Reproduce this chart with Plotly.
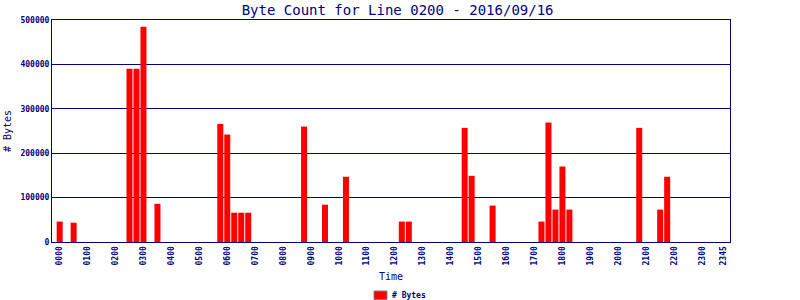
import plotly.graph_objects as go

# 15-minute time slots for the day
times = [f"{h:02d}{m:02d}" for h in range(24) for m in (0, 15, 30, 45)]

# Byte counts per 15-minute slot
byte_counts = [
    46000, 0, 43500, 0, 0, 0, 0, 0,            # 0000-0145
    0, 0, 390000, 390000, 485000, 0, 86000, 0, # 0200-0345
    0, 0, 0, 0, 0, 0, 0, 266000,               # 0400-0545
    242000, 66000, 66000, 66000, 0, 0, 0, 0,   # 0600-0745
    0, 0, 0, 260000, 0, 0, 84000, 0,           # 0800-0945
    0, 147000, 0, 0, 0, 0, 0, 0,               # 1000-1145
    0, 46000, 46000, 0, 0, 0, 0, 0,            # 1200-1345
    0, 0, 257000, 149000, 0, 0, 82000, 0,      # 1400-1545
    0, 0, 0, 0, 0, 46000, 269000, 73000,       # 1600-1745
    170000, 73000, 0, 0, 0, 0, 0, 0,           # 1800-1945
    0, 0, 0, 257000, 0, 0, 73000, 147000,      # 2000-2145
    0, 0, 0, 0, 0, 0, 0, 0,                    # 2200-2345
]

tick_labels = [f"{h:02d}00" for h in range(24)] + ["2345"]
tick_positions = [times.index(t) for t in tick_labels]
y_ticks = [0, 100000, 200000, 300000, 400000, 500000]
series_name = "# Bytes"

NAVY = "#000080"
FONT = "DejaVu Sans Mono"

fig = go.Figure()
fig.add_trace(go.Bar(
    x=list(range(len(times))),
    y=byte_counts,
    name=series_name,
    marker=dict(color="#ff0000", line=dict(width=0)),
    hovertext=times,
    showlegend=False,
))

fig.update_layout(
    width=800, height=300,
    margin=dict(l=52, r=70, t=20, b=58, autoexpand=False),
    paper_bgcolor="white", plot_bgcolor="white",
    bargap=0.14,
    title=dict(text="Byte Count for Line 0200 - 2016/09/16",
               x=0.497, xanchor="center", y=0.967, yanchor="middle",
               font=dict(family=FONT, size=14, color=NAVY)),
    font=dict(family=FONT, color=NAVY),
)

# legend key drawn at the bottom centre
fig.add_shape(type="rect", xref="paper", yref="paper",
              x0=(374 - 52) / 678, x1=(387 - 52) / 678,
              y0=(242 - 291) / 222, y1=(242 - 299.5) / 222,
              fillcolor="#ff0000", line=dict(color="#808080", width=1))
fig.add_annotation(text=series_name, xref="paper", yref="paper",
                   x=(390 - 52) / 678, y=(242 - 295) / 222,
                   xanchor="left", yanchor="middle", showarrow=False,
                   font=dict(family=FONT, size=8, color=NAVY, weight="bold"))

fig.update_xaxes(
    range=[-1.1, 96],
    tickmode="array", tickvals=tick_positions, ticktext=tick_labels,
    tickangle=-90,
    tickfont=dict(family=FONT, size=8, color=NAVY, weight="bold"),
    showgrid=False, zeroline=False,
    showline=True, mirror=True, linecolor=NAVY, linewidth=1,
    ticks="", ticklen=0, automargin=False,
    title=dict(text="Time", font=dict(family=FONT, size=10, color=NAVY), standoff=8),
)

fig.update_yaxes(
    range=[0, 500000],
    tickmode="array", tickvals=y_ticks,
    ticktext=[str(v) for v in y_ticks],
    tickfont=dict(family=FONT, size=8, color=NAVY, weight="bold"),
    showgrid=True, gridcolor=NAVY, gridwidth=1,
    zeroline=False,
    showline=True, mirror=True, linecolor=NAVY, linewidth=1,
    ticks="", ticklen=0, automargin=False,
    title=dict(text="# Bytes", font=dict(family=FONT, size=10, color=NAVY), standoff=6),
)

fig.write_html("out.html")
